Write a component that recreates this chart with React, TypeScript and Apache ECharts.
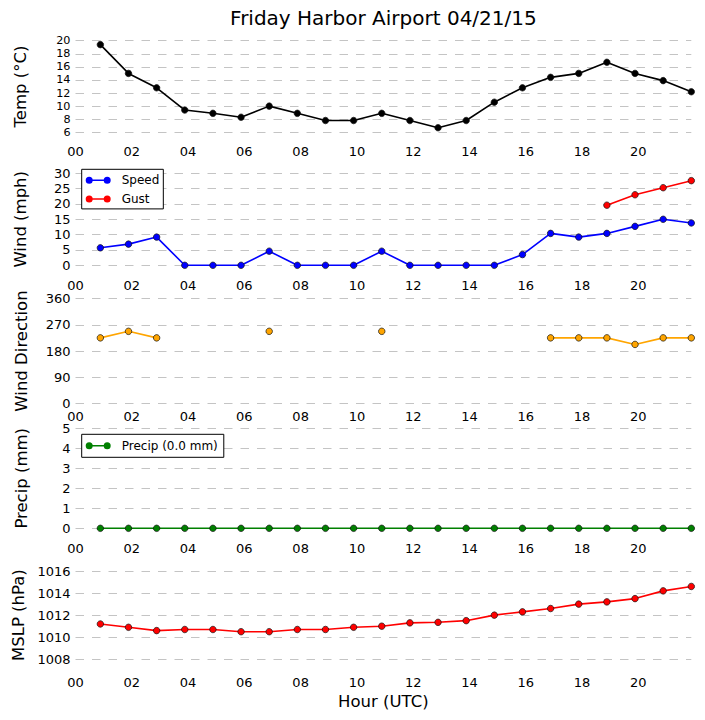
import React, { useEffect, useRef } from "react";
import * as echarts from "echarts";

// Observation times (UTC) on 04/21/15
const obsTimes = [
  "00:53", "01:53", "02:53", "03:53", "04:53", "05:53", "06:53", "07:53",
  "08:53", "09:53", "10:53", "11:53", "12:53", "13:53", "14:53", "15:53",
  "16:53", "17:53", "18:53", "19:53", "20:53", "21:53",
];

const tempC = [
  19.4, 15.0, 12.8, 9.4, 8.9, 8.3, 10.0, 8.9, 7.8, 7.8, 8.9,
  7.8, 6.7, 7.8, 10.6, 12.8, 14.4, 15.0, 16.7, 15.0, 13.9, 12.2,
];

const windSpeed = [
  5.7, 6.9, 9.2, 0, 0, 0, 4.6, 0, 0, 0, 4.6,
  0, 0, 0, 0, 3.5, 10.4, 9.2, 10.4, 12.7, 15.0, 13.8,
];

const windGust: (number | null)[] = [
  null, null, null, null, null, null, null, null, null, null, null,
  null, null, null, null, null, null, null, 19.6, 23.0, 25.3, 27.6,
];

const windDir: (number | null)[] = [
  225, 247.5, 225, null, null, null, 247.5, null, null, null, 247.5,
  null, null, null, null, null, 225, 225, 225, 202.5, 225, 225,
];

const precipMm = [
  0, 0, 0, 0, 0, 0, 0, 0, 0, 0, 0,
  0, 0, 0, 0, 0, 0, 0, 0, 0, 0, 0,
];

const mslp = [
  1011.2, 1010.9, 1010.6, 1010.7, 1010.7, 1010.5, 1010.5, 1010.7, 1010.7, 1010.9, 1011.0,
  1011.3, 1011.35, 1011.5, 1012.0, 1012.3, 1012.6, 1013.0, 1013.2, 1013.5, 1014.2, 1014.6,
];

const titleText = "Friday Harbor Airport 04/21/15";
const yNames = ["Temp (°C)", "Wind (mph)", "Wind Direction", "Precip (mm)", "MSLP (hPa)"];
const xName = "Hour (UTC)";
const precipLabel = "Precip (0.0 mm)";

const FONT = "DejaVu Sans";

const toHours = (t: string) => {
  const [h, m] = t.split(":").map(Number);
  return h + m / 60;
};

const xs = obsTimes.map(toHours);
const pair = (vals: (number | null)[]) =>
  xs.map((x, i) => [x, vals[i] == null ? "-" : vals[i]]);

const LEGEND_ICON =
  "path://M0,3.5A3.5,3.5,0,1,1,7,3.5A3.5,3.5,0,1,1,0,3.5Z" +
  "M18,3.5A3.5,3.5,0,1,1,25,3.5A3.5,3.5,0,1,1,18,3.5Z" +
  "M3.5,2.75L21.5,2.75L21.5,4.25L3.5,4.25Z";

export default function App() {
  const ref = useRef<HTMLDivElement>(null);

  useEffect(() => {
    if (!ref.current) return;
    const chart = echarts.init(ref.current, undefined, { renderer: "svg" });

    const gridLeft = 75.5;
    const gridWidth = 615.8;
    const grids = [
      { top: 40.7, height: 91.6 },
      { top: 173.3, height: 92 },
      { top: 298.5, height: 105 },
      { top: 428.3, height: 100 },
      { top: 571, height: 88.3 },
    ];
    const labelMargins = [13.5, 14, 6.8, 14.2, 16.9];
    const yLabelSizes = [11.2, 13, 13, 13, 13];
    const yNameGaps = [47, 47, 46, 46, 45];
    const yRanges = [
      { min: 6, max: 20, interval: 2 },
      { min: 0, max: 30, interval: 5 },
      { min: 0, max: 360, interval: 90 },
      { min: 0, max: 5, interval: 1 },
      { min: 1008, max: 1016, interval: 2 },
    ];
    const xMax = xs[xs.length - 1];

    const xAxes = grids.map((_, i) => ({
      type: "value",
      gridIndex: i,
      min: 0,
      max: xMax,
      interval: 2,
      axisLine: { show: false },
      axisTick: { show: false },
      splitLine: { show: false },
      axisLabel: {
        showMaxLabel: false,
        margin: labelMargins[i],
        fontSize: 13,
        lineHeight: 12,
        fontFamily: FONT,
        color: "#000",
        formatter: (v: number) => {
          const r = Math.round(v);
          if (Math.abs(v - r) > 1e-6 || r % 2 !== 0) return "";
          return String(r).padStart(2, "0");
        },
      },
      ...(i === 4
        ? {
            name: xName,
            nameLocation: "middle",
            nameGap: 34,
            nameTextStyle: { fontSize: 16.5, fontFamily: FONT, color: "#000" },
          }
        : {}),
    }));

    const yAxes = grids.map((_, i) => ({
      type: "value",
      gridIndex: i,
      ...yRanges[i],
      name: yNames[i],
      nameLocation: "middle",
      nameGap: yNameGaps[i],
      nameTextStyle: { fontSize: 16.5, fontFamily: FONT, color: "#000" },
      axisLine: { show: false },
      axisTick: { show: false },
      axisLabel: {
        margin: 5,
        fontSize: yLabelSizes[i],
        lineHeight: 11,
        fontFamily: FONT,
        color: "#000",
        formatter: (v: number) => String(v),
      },
      splitLine: {
        show: true,
        lineStyle: { color: "#c4c4c4", type: [8.5, 8], width: 1 },
      },
    }));

    const mkLine = (
      name: string,
      idx: number,
      data: any[],
      color: string
    ) => ({
      name,
      type: "line",
      xAxisIndex: idx,
      yAxisIndex: idx,
      data,
      clip: false,
      connectNulls: false,
      showSymbol: true,
      symbol: "circle",
      symbolSize: 6.5,
      lineStyle: { color, width: 1.6 },
      itemStyle: { color, borderColor: "#111", borderWidth: 0.7 },
      emphasis: { disabled: true },
      z: 3,
    });

    const legendCommon = {
      orient: "vertical",
      left: 81.7,
      icon: LEGEND_ICON,
      itemWidth: 25,
      itemHeight: 7,
      itemGap: 4.6,
      selectedMode: false,
      backgroundColor: "#fff",
      borderColor: "#000",
      borderWidth: 1,
      borderRadius: 0,
      itemStyle: { borderWidth: 0 },
      textStyle: {
        fontSize: 12,
        fontFamily: FONT,
        color: "#000",
        lineHeight: 14,
        padding: [0, 0, 0, 6],
      },
    };

    chart.setOption({
      animation: false,
      backgroundColor: "#fff",
      title: {
        text: titleText,
        left: gridLeft + gridWidth / 2,
        textAlign: "center",
        top: 8,
        padding: 0,
        textStyle: { fontSize: 20, fontWeight: "normal", fontFamily: FONT, color: "#000" },
      },
      legend: [
        { ...legendCommon, top: 169.3, padding: [4, 4, 3, 4], data: ["Speed", "Gust"] },
        { ...legendCommon, top: 434.3, padding: [4.5, 6, 4.5, 4], data: [precipLabel] },
      ],
      grid: grids.map((g) => ({ left: gridLeft, width: gridWidth, top: g.top, height: g.height })),
      xAxis: xAxes,
      yAxis: yAxes,
      series: [
        mkLine("Temp", 0, pair(tempC), "#000000"),
        mkLine("Speed", 1, pair(windSpeed), "#0000ff"),
        mkLine("Gust", 1, pair(windGust), "#ff0000"),
        mkLine("Direction", 2, pair(windDir), "#ffa500"),
        mkLine(precipLabel, 3, pair(precipMm), "#008000"),
        mkLine("MSLP", 4, pair(mslp), "#ff0000"),
      ],
    });

    return () => chart.dispose();
  }, []);

  return (
    <div
      ref={ref}
      style={{ position: "fixed", left: 0, top: 0, width: 705, height: 720, background: "#fff" }}
    />
  );
}
